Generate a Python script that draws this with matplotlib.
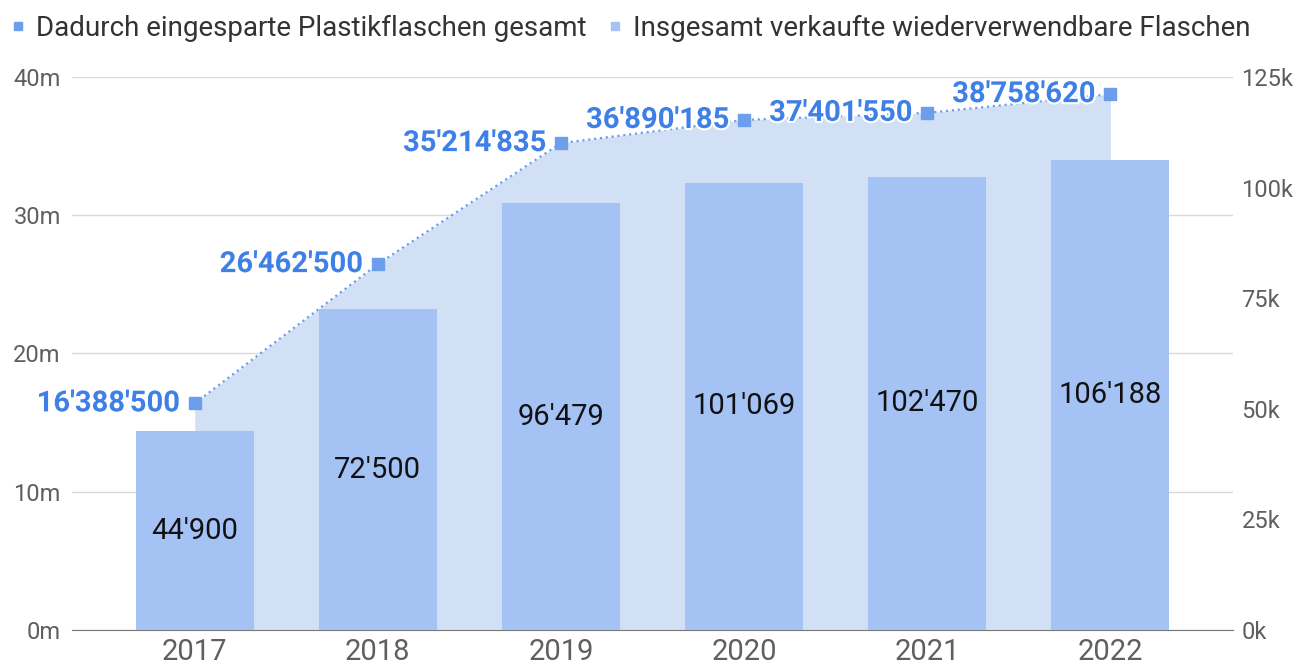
import matplotlib.pyplot as plt
import matplotlib.patheffects as pe
from matplotlib.lines import Line2D
import numpy as np

years = ['2017', '2018', '2019', '2020', '2021', '2022']
saved_bottles = [16388500, 26462500, 35214835, 36890185, 37401550, 38758620]
sold_bottles = [44900, 72500, 96479, 101069, 102470, 106188]

left_ticks = [0, 10e6, 20e6, 30e6, 40e6]
right_ticks = [0, 25e3, 50e3, 75e3, 100e3, 125e3]

plt.rcParams['font.family'] = ['Roboto', 'DejaVu Sans']

def fmt(v):
    return f'{v:,}'.replace(',', "'")

fig = plt.figure(figsize=(12.97, 6.70), dpi=100)
ax = fig.add_axes([0.0555, 0.0597, 0.8952, 0.8254])
ax2 = ax.twinx()

x = np.arange(len(years))

# area under the saved-bottles line (left scale)
ax.fill_between(x, saved_bottles, color='#d2e0f6', lw=0, zorder=1)
ax.set_ylim(0, 40e6)
ax.set_yticks(left_ticks)
ax.set_yticklabels([f'{v/1e6:.0f}m' for v in left_ticks])
ax.grid(axis='y', color='#d9d9d9', lw=1)
ax.set_axisbelow(True)

# bars (right scale)
ax2.bar(x, sold_bottles, width=0.645, color='#a4c2f4', zorder=2)
ax2.set_ylim(0, 125e3)
ax2.set_yticks(right_ticks)
ax2.set_yticklabels([f'{v/1e3:.0f}k' for v in right_ticks])
for xi, v in zip(x, sold_bottles):
    ax2.text(xi, v / 2, fmt(v), ha='center', va='center', fontsize=21, color='#111111', zorder=4)

# line on top, using the left scale
ax2.plot(x, saved_bottles, ls=':', color='#6d9eeb', lw=1.6, marker='s', ms=8,
         transform=ax.transData, zorder=5)
for xi, v in zip(x, saved_bottles):
    t = ax2.annotate(fmt(v), (xi, v), xycoords=ax.transData, xytext=(-11, 0),
                     textcoords='offset points', ha='right', va='center',
                     fontsize=21, fontweight='bold', color='#3f80e6', zorder=6)
    t.set_path_effects([pe.withStroke(linewidth=3, foreground='white')])

ax.set_xlim(-0.67, 5.67)
ax.set_xticks(x)
ax.set_xticklabels(years)

for a in (ax, ax2):
    for s in a.spines.values():
        s.set_visible(False)
    a.tick_params(length=0, colors='#5f5f5f', labelsize=17)
ax.tick_params(axis='x', labelsize=21, pad=6)
ax.tick_params(axis='y', pad=8)
ax2.tick_params(axis='y', pad=6)
ax.spines['bottom'].set_visible(True)
ax.spines['bottom'].set_color('#777777')

handles = [
    Line2D([], [], marker='s', ls='none', color='#6d9eeb', ms=6),
    Line2D([], [], marker='s', ls='none', color='#a4c2f4', ms=6),
]
fig.legend(handles, ['Dadurch eingesparte Plastikflaschen gesamt',
                     'Insgesamt verkaufte wiederverwendbare Flaschen'],
           loc='upper left', bbox_to_anchor=(-0.011, 1.015), ncol=2, frameon=False,
           fontsize=20, handlelength=0.5, handletextpad=0.4, columnspacing=0.8,
           labelcolor='#333333')

fig.savefig('out.png', dpi=100)
